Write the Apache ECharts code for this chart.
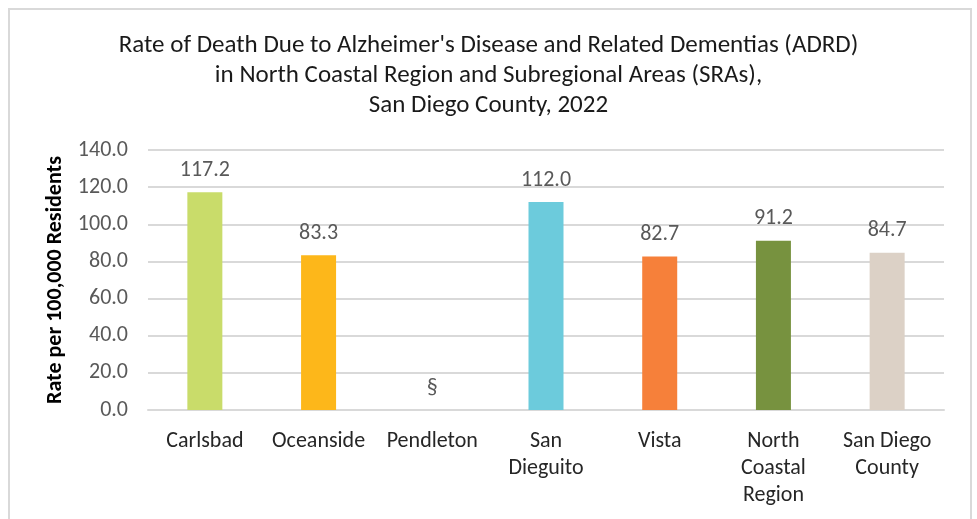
<!DOCTYPE html>
<html>
<head>
<meta charset="utf-8">
<script src="https://cdn.jsdelivr.net/npm/echarts@6/dist/echarts.min.js"></script>
<style>
  html, body { margin: 0; padding: 0; background: #fff; }
  .frame {
    position: absolute;
    left: 8px; top: 8px;
    width: 960px; height: 530px;
    border: 2px solid #d9d9d9;
  }
  #chart { position: absolute; left: 0; top: 0; width: 977px; height: 519px; }
</style>
</head>
<body>
<div class="frame"></div>
<div id="chart"></div>
<script>
// chart values
const areas = ["Carlsbad", "Oceanside", "Pendleton", "San\nDieguito", "Vista", "North\nCoastal\nRegion", "San Diego\nCounty"];
const rates = [117.2, 83.3, 0, 112.0, 82.7, 91.2, 84.7];
const suppressed = [false, false, true, false, false, false, false];
const barColors = ["#c9dc6a", "#fdb71a", "#a6a6a6", "#6ccbdc", "#f6803a", "#77923f", "#dcd1c6"];
const yTicks = [0, 20, 40, 60, 80, 100, 120, 140];

const font = "Carlito, 'Liberation Sans Narrow', 'Open Sans', sans-serif";

let myChart = echarts.init(document.getElementById("chart"));
let option = {
  animation: false,
  textStyle: { fontFamily: font },
  title: {
    text: "Rate of Death Due to Alzheimer's Disease and Related Dementias (ADRD)\nin North Coastal Region and Subregional Areas (SRAs),\nSan Diego County, 2022",
    left: "center",
    top: 26,
    textStyle: {
      fontFamily: font,
      fontSize: 25,
      fontWeight: "normal",
      color: "#1a1a1a",
      lineHeight: 30,
    },
  },
  grid: {
    left: 148,
    right: 33,
    top: 150,
    bottom: 109,
  },
  xAxis: {
    type: "category",
    data: areas,
    axisLine: { lineStyle: { color: "#d9d9d9", width: 2 } },
    axisTick: { show: false },
    axisLabel: {
      fontFamily: font,
      fontSize: 22,
      color: "#262626",
      lineHeight: 27,
      margin: 18,
      interval: 0,
    },
  },
  yAxis: {
    type: "value",
    min: yTicks[0],
    max: yTicks[yTicks.length - 1],
    interval: 20,
    name: "Rate per 100,000 Residents",
    nameLocation: "middle",
    nameGap: 71,
    nameTextStyle: {
      fontFamily: font,
      fontSize: 22,
      fontWeight: "bold",
      color: "#000",
    },
    axisLine: { show: false },
    axisTick: { show: false },
    axisLabel: {
      fontFamily: font,
      fontSize: 22,
      color: "#595959",
      margin: 20,
      formatter: (v) => v.toFixed(1),
    },
    splitLine: { lineStyle: { color: "#d9d9d9", width: 2 } },
  },
  series: [
    {
      type: "bar",
      barWidth: 35,
      data: rates.map((v, i) => ({
        value: v,
        itemStyle: { color: barColors[i] },
      })),
      label: {
        show: true,
        position: "top",
        distance: 11,
        fontFamily: font,
        fontSize: 22,
        color: "#595959",
        formatter: (p) => (suppressed[p.dataIndex] ? "§" : p.value.toFixed(1)),
      },
    },
  ],
};
myChart.setOption(option);
</script>
</body>
</html>
